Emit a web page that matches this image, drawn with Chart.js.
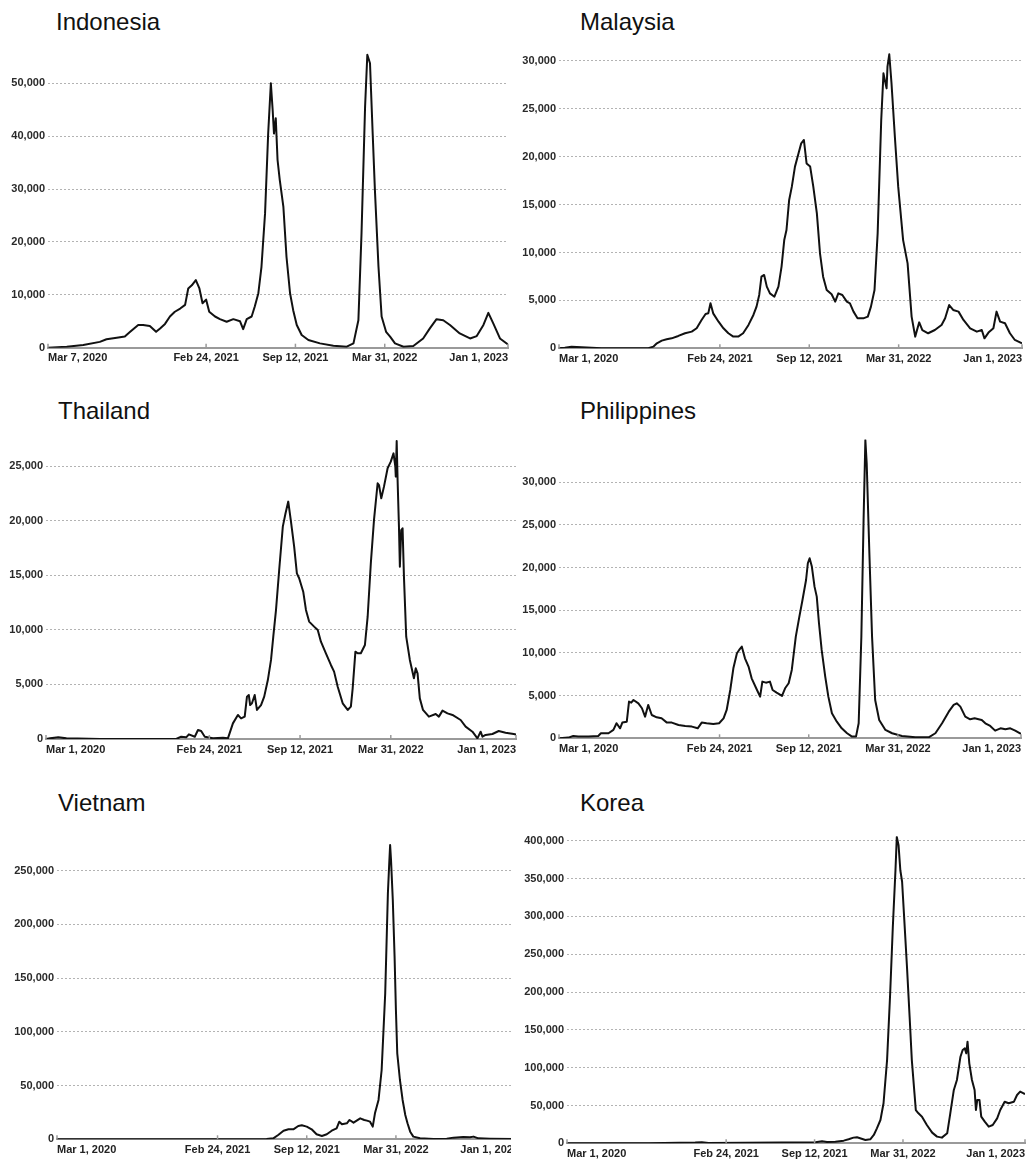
<!DOCTYPE html>
<html>
<head>
<meta charset="utf-8">
<script src="https://cdn.jsdelivr.net/npm/chart.js@4.4.1/dist/chart.umd.min.js"></script>
<style>
html,body{margin:0;padding:0;background:#fff;width:1029px;height:1161px;overflow:hidden;position:relative;}
.panel{position:absolute;overflow:hidden;}
.panel canvas{position:absolute;left:0;top:0;}
.title{position:absolute;font-family:"Liberation Sans",Arial,Helvetica,sans-serif;font-size:24px;line-height:24px;color:#111;white-space:nowrap;}
</style>
</head>
<body>
<script>
// ---------- DATA (x = days since 2020-03-01, y = daily new cases, 7-day avg) ----------
const START_DATE = '2020-03-01';

const xTickDatesDefault = ['2020-03-01','2021-02-24','2021-09-12','2022-03-31','2023-01-01'];
const xTickLabelsDefault = ['Mar 1, 2020','Feb 24, 2021','Sep 12, 2021','Mar 31, 2022','Jan 1, 2023'];
const xTickDatesIndonesia = ['2020-03-07','2021-02-24','2021-09-12','2022-03-31','2023-01-01'];
const xTickLabelsIndonesia = ['Mar 7, 2020','Feb 24, 2021','Sep 12, 2021','Mar 31, 2022','Jan 1, 2023'];

const yTicksIndonesia = [0,10000,20000,30000,40000,50000];
const yTicksMalaysia = [0,5000,10000,15000,20000,25000,30000];
const yTicksThailand = [0,5000,10000,15000,20000,25000];
const yTicksPhilippines = [0,5000,10000,15000,20000,25000,30000];
const yTicksVietnam = [0,50000,100000,150000,200000,250000];
const yTicksKorea = [0,50000,100000,150000,200000,250000,300000,350000,400000];

const indonesiaDays = [6,48,85,122,137,160,178,190,208,219,234,248,257,268,279,290,302,313,320,328,337,345,352,360,367,380,391,406,421,436,443,451,462,469,477,484,492,499,505,509,512,516,520,525,533,540,548,555,563,574,589,615,645,675,690,701,708,716,721,727,733,738,746,753,763,772,783,802,824,846,861,876,891,906,928,951,966,981,992,1003,1018,1036];
const indonesiaCases = [0,200,500,1100,1600,1900,2100,3000,4300,4300,4100,3000,3650,4500,5900,6800,7400,8100,11200,11800,12800,11200,8400,9100,6800,5900,5400,4900,5400,5000,3500,5400,5900,7800,10300,15300,25400,40500,50000,45000,40500,43400,35500,31700,26700,17200,10300,7100,4300,2400,1450,820,380,190,820,5200,21600,45600,55400,53800,40500,29800,15300,5900,3000,2100,820,190,320,1750,3650,5400,5200,4300,2700,1750,2200,4300,6600,4600,1750,630];

const malaysiaDays = [0,13,28,51,95,200,211,219,230,241,252,267,282,297,308,319,328,334,339,345,357,368,379,390,401,412,424,435,442,448,453,459,465,472,482,491,498,504,509,515,521,528,536,542,548,554,562,569,577,584,591,599,610,618,625,634,644,651,659,668,681,691,698,706,713,721,726,729,733,735,739,744,752,759,770,780,789,797,806,813,826,841,856,864,873,882,894,905,920,935,946,952,961,972,979,987,998,1009,1020,1036];
const malaysiaCases = [0,70,170,100,0,0,170,520,800,940,1040,1290,1570,1740,2090,2960,3580,3650,4700,3650,2780,2090,1570,1220,1220,1570,2440,3480,4350,5570,7480,7660,6440,5740,5390,6440,8530,11300,12350,15490,16880,18970,20360,21400,21750,19300,18970,16880,14090,9920,7480,6090,5640,4870,5740,5570,4870,4700,3830,3130,3130,3310,4350,6090,12000,23840,28710,28010,27140,29400,30700,27670,21750,16880,11300,8870,3310,1220,2710,1910,1570,1910,2440,3130,4520,4000,3830,2960,2090,1740,1910,1040,1640,2090,3830,2780,2610,1570,870,520];

const thailandDays = [0,9,27,45,119,287,298,309,315,328,335,342,350,368,390,401,412,423,430,438,443,447,450,454,460,465,474,481,489,496,501,507,514,522,528,534,540,547,553,558,567,573,580,591,599,606,617,628,635,643,654,665,672,676,682,687,694,703,709,716,723,731,734,739,745,753,760,766,770,771,773,775,778,780,783,786,789,794,802,811,815,819,824,831,844,859,866,874,885,896,914,925,940,951,958,962,969,984,998,1013,1031,1036];
const thailandCases = [0,60,150,60,0,0,210,150,430,210,820,730,210,60,120,60,1430,2200,1890,2050,3880,4030,3110,3270,4030,2660,3110,3880,5400,7240,9370,11820,15480,19450,20670,21740,19910,17620,15170,14720,13490,11820,10750,10290,9980,8910,7850,6780,6170,4790,3270,2660,2960,4640,8000,7850,7850,8610,11200,16090,20060,23420,23260,22040,23110,24790,25400,26160,24940,24030,27290,23720,19450,15780,19140,19300,14870,9370,7240,5560,6470,6010,3720,2660,2050,2290,2050,2600,2350,2200,1740,1130,670,60,670,210,370,460,730,580,460,400];

const philippinesDays = [0,21,32,43,66,88,94,111,122,129,137,142,152,157,162,167,178,186,193,200,208,219,230,242,253,268,283,298,311,320,331,346,359,369,376,384,391,399,404,410,417,425,432,444,451,456,464,473,479,488,500,507,515,522,531,539,546,554,558,562,567,573,578,583,589,597,604,612,623,634,646,657,666,672,678,683,687,690,696,702,709,718,732,747,769,799,829,844,859,874,885,892,900,911,922,932,941,948,956,967,978,990,1001,1012,1023,1036];
const philippinesCases = [0,80,270,200,200,270,590,590,980,1760,1170,1840,1950,4300,4180,4490,4100,3520,2540,3910,2730,2460,2340,1840,1840,1560,1450,1370,1170,1840,1760,1680,1760,2340,3320,5660,8200,9960,10350,10740,9370,8400,7030,5660,4880,6640,6520,6640,5660,5350,4960,5860,6450,8010,11910,14260,16210,18550,20510,21090,20120,17770,16600,13480,10350,7230,4880,2930,1950,1170,590,200,200,1760,11910,25580,34960,32220,21680,11910,4490,2150,980,590,270,120,120,590,1760,3120,3910,4100,3710,2540,2230,2340,2230,2150,1760,1450,900,1170,1050,1170,900,510];

const vietnamDays = [0,470,485,496,508,519,530,541,549,560,571,582,594,605,616,627,633,639,650,656,665,672,680,689,695,702,708,713,721,728,736,742,745,747,749,753,757,760,763,769,775,781,786,792,799,814,844,874,889,911,926,934,945,971,1024,1036];
const vietnamCases = [0,300,900,4000,8000,9300,9300,12400,13000,11800,9300,4650,3100,4650,8000,10200,16400,14000,14900,18000,15500,17400,19500,18000,17400,16400,11800,24200,36600,64500,135900,228900,256800,273900,260000,222700,170000,120400,80000,55200,36600,22600,14900,7100,2500,900,300,600,1550,2200,1900,2500,900,600,300,300];

const koreaDays = [0,184,290,305,320,486,562,577,588,607,626,637,648,656,663,675,686,694,701,709,716,724,731,737,743,746,750,754,758,763,769,775,780,786,789,795,803,814,826,837,848,860,867,875,882,890,895,900,903,906,910,916,922,925,928,933,937,945,954,963,973,980,990,999,1011,1018,1025,1033,1036];
const koreaCases = [0,0,900,1300,450,900,1300,2600,1800,2200,3500,5300,7500,7900,6600,4400,5300,11000,19800,30800,52900,110000,198000,286000,361000,405000,394000,361000,345800,295000,233500,167400,110000,66000,44000,39600,35200,24200,14100,8800,7500,13200,39600,70500,83700,114500,123300,125500,118900,134400,105700,83700,70500,44000,57300,57300,35200,28600,22000,24200,33000,44000,55000,52900,55000,63900,68300,66000,64800];

// ---------- LAYOUT ----------
const FONT = '"Liberation Sans", Arial, Helvetica, sans-serif';
const panels = [
  {title:'Indonesia', days:indonesiaDays, cases:indonesiaCases, yTicks:yTicksIndonesia, yMax:56000,
   tickDates:xTickDatesIndonesia, tickLabels:xTickLabelsIndonesia,
   titleLeft:56, titleTop:9.7,
   cLeft:0, cTop:40, cWidth:514, cHeight:332, clipWidth:514, plotLeft:48, plotRight:508, plotTop:51.6, plotBottom:347.7},
  {title:'Malaysia', days:malaysiaDays, cases:malaysiaCases, yTicks:yTicksMalaysia, yMax:31000,
   tickDates:xTickDatesDefault, tickLabels:xTickLabelsDefault,
   titleLeft:580, titleTop:9.7,
   cLeft:515, cTop:40, cWidth:514, cHeight:332, clipWidth:514, plotLeft:559, plotRight:1022, plotTop:51.4, plotBottom:348.3},
  {title:'Thailand', days:thailandDays, cases:thailandCases, yTicks:yTicksThailand, yMax:27500,
   tickDates:xTickDatesDefault, tickLabels:xTickLabelsDefault,
   titleLeft:58, titleTop:399,
   cLeft:0, cTop:425, cWidth:520, cHeight:338, clipWidth:520, plotLeft:46, plotRight:517, plotTop:438.7, plotBottom:739},
  {title:'Philippines', days:philippinesDays, cases:philippinesCases, yTicks:yTicksPhilippines, yMax:35000,
   tickDates:xTickDatesDefault, tickLabels:xTickLabelsDefault,
   titleLeft:580, titleTop:399,
   cLeft:515, cTop:425, cWidth:514, cHeight:338, clipWidth:514, plotLeft:559, plotRight:1021, plotTop:439.6, plotBottom:738.3},
  {title:'Vietnam', days:vietnamDays, cases:vietnamCases, yTicks:yTicksVietnam, yMax:275000,
   tickDates:xTickDatesDefault, tickLabels:xTickLabelsDefault,
   titleLeft:58, titleTop:791.4,
   cLeft:0, cTop:830, cWidth:524, cHeight:331, clipWidth:511, plotLeft:57, plotRight:519, plotTop:843.8, plotBottom:1139.3},
  {title:'Korea', days:koreaDays, cases:koreaCases, yTicks:yTicksKorea, yMax:406000,
   tickDates:xTickDatesDefault, tickLabels:xTickLabelsDefault,
   titleLeft:580, titleTop:791.4,
   cLeft:515, cTop:822, cWidth:514, cHeight:339, clipWidth:514, plotLeft:567, plotRight:1025, plotTop:836.2, plotBottom:1143.3}
];

function dayOf(s){
  return (Date.parse(s + 'T00:00:00Z') - Date.parse(START_DATE + 'T00:00:00Z')) / 86400000;
}

const upTicks = {
  id: 'upTicks',
  afterDraw(chart){
    const s = chart.scales.x, ctx = chart.ctx;
    ctx.save();
    ctx.strokeStyle = '#9a9a9a';
    ctx.lineWidth = 1.5;
    s.ticks.forEach(t => {
      const x = s.getPixelForValue(t.value);
      ctx.beginPath();
      ctx.moveTo(x, s.top);
      ctx.lineTo(x, s.top - 4);
      ctx.stroke();
    });
    ctx.restore();
  }
};

panels.forEach(p => {
  const t = document.createElement('div');
  t.className = 'title';
  t.textContent = p.title;
  t.style.left = p.titleLeft + 'px';
  t.style.top = p.titleTop + 'px';
  document.body.appendChild(t);

  const div = document.createElement('div');
  div.className = 'panel';
  div.style.left = p.cLeft + 'px';
  div.style.top = p.cTop + 'px';
  div.style.width = p.clipWidth + 'px';
  div.style.height = p.cHeight + 'px';
  const canvas = document.createElement('canvas');
  canvas.width = p.cWidth; canvas.height = p.cHeight;
  canvas.style.width = p.cWidth + 'px'; canvas.style.height = p.cHeight + 'px';
  div.appendChild(canvas);
  document.body.appendChild(div);

  const tickDays = p.tickDates.map(dayOf);
  const points = p.days.map((d, i) => ({x: d, y: p.cases[i]}));

  new Chart(canvas, {
    type: 'line',
    data: {datasets: [{data: points, borderColor: '#111', borderWidth: 2, pointRadius: 0, tension: 0, fill: false, borderJoinStyle: 'round'}]},
    options: {
      responsive: false, animation: false, devicePixelRatio: 1,
      layout: {padding: {top: p.plotTop - p.cTop, right: p.cLeft + p.cWidth - p.plotRight, left: 0, bottom: 0}},
      plugins: {legend: {display: false}, tooltip: {enabled: false}, title: {display: false}},
      scales: {
        x: {
          type: 'linear', min: tickDays[0], max: tickDays[tickDays.length - 1],
          grid: {display: false, drawTicks: false},
          border: {display: true, color: '#9a9a9a', width: 2},
          afterBuildTicks: s => { s.ticks = tickDays.map(v => ({value: v})); },
          afterFit: s => { s.height = p.cTop + p.cHeight - p.plotBottom; },
          ticks: {align: 'inner', maxRotation: 0, autoSkip: false, padding: 4, color: '#222',
                  font: {family: FONT, size: 11, weight: 'bold'},
                  callback: (v, i) => p.tickLabels[i]}
        },
        y: {
          min: 0, max: p.yMax,
          afterBuildTicks: s => { s.ticks = p.yTicks.map(v => ({value: v})); },
          afterFit: s => { s.width = p.plotLeft - p.cLeft; },
          grid: {color: '#b3b3b3', lineWidth: 1, drawTicks: false},
          border: {display: false, dash: [2, 2]},
          ticks: {padding: 3, color: '#2a2a2a', font: {family: FONT, size: 11, weight: 'bold'},
                  callback: v => Number(v).toLocaleString('en-US')}
        }
      }
    },
    plugins: [upTicks]
  });
});
</script>
</body>
</html>
